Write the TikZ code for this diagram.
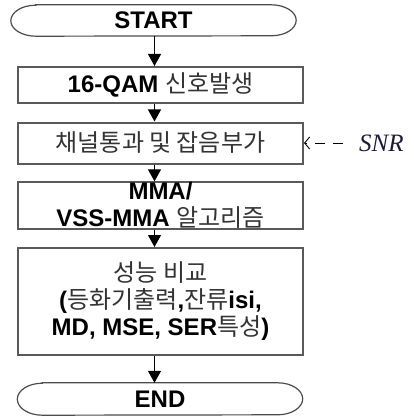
\documentclass[tikz,border=0pt]{standalone}
\usepackage{fontspec}
\setmainfont{Liberation Sans}
\newfontfamily\krfont{Noto Sans CJK KR}
\newfontfamily\snrfont{Liberation Serif}
\usetikzlibrary{arrows.meta}

\definecolor{boxline}{HTML}{5A5A5A}
\definecolor{kortext}{HTML}{333333}
\definecolor{snrink}{HTML}{1C1C3A}

\newcommand{\ko}[1]{{\krfont\mdseries\color{kortext}#1}}

% outline of a start / end node
\newcommand{\terminal}[2]{%
  \draw[termline] ([xshift=25pt]#1.north west) -- ([xshift=-25pt]#1.north east)
    arc[start angle=90, end angle=-90, x radius=25pt, y radius=#2]
    -- ([xshift=25pt]#1.south west)
    arc[start angle=270, end angle=90, x radius=25pt, y radius=#2] -- cycle;}

\begin{document}
\begin{tikzpicture}[x=1pt, y=-1pt,
    stepbox/.style={draw=boxline, line width=2pt, minimum width=285pt,
        inner sep=0pt, align=center,
        font=\fontsize{24}{27}\selectfont\bfseries},
    termtext/.style={minimum width=285pt, inner sep=0pt,
        font=\fontsize{24}{27}\selectfont\bfseries},
    termline/.style={draw=black!70, line width=1.2pt},
    flow/.style={-{Triangle[width=13pt,length=12pt]}, line width=1.2pt},
    noise/.style={-{Straight Barb[length=5pt,width=12pt]}, line width=0.9pt,
        dash pattern=on 10pt off 8pt},
]
\useasboundingbox (0,0) rectangle (413,417);

% Terminals
\node[termtext, minimum height=31pt] (start) at (153.5, 20.5) {START};
\node[termtext, minimum height=32pt] (stop) at (160, 399) {END};
\terminal{start}{15.5pt}
\terminal{stop}{16pt}

% Processing steps
\node[stepbox, minimum height=36pt] (gen) at (160.5, 85) {16-QAM \ko{신호발생}};
\node[stepbox, minimum height=41pt] (chan) at (160.5, 143) {\ko{채널통과 및 잡음부가}};
\node[stepbox, minimum height=46pt] (algo) at (160.5, 205.5)
    {MMA/\\VSS-MMA \ko{알고리즘}};
\node[stepbox, minimum height=107pt] (comp) at (160.5, 301.5)
    {\ko{성능 비교}\\(\ko{등화기출력},\ko{잔류}isi,\\MD, MSE, SER\ko{특성})};

% Flow arrows
\coordinate (axis) at (154.5, 0);
\draw[flow] (start.south -| axis) -- (gen.north -| axis);
\draw[flow] (gen.south -| axis) -- (chan.north -| axis);
\draw[flow] (chan.south -| axis) -- (algo.north -| axis);
\draw[flow] (algo.south -| axis) -- (comp.north -| axis);
\draw[flow] (comp.south -| axis) -- (stop.north -| axis);

% Noise input
\node[font=\fontsize{25}{27}\selectfont\snrfont\itshape, text=snrink,
    anchor=west, inner sep=0pt] (snr) at (359, 143) {SNR};
\coordinate (snrin) at (343, 143);
\draw[noise] (snrin) -- (chan.east);

\end{tikzpicture}
\end{document}
